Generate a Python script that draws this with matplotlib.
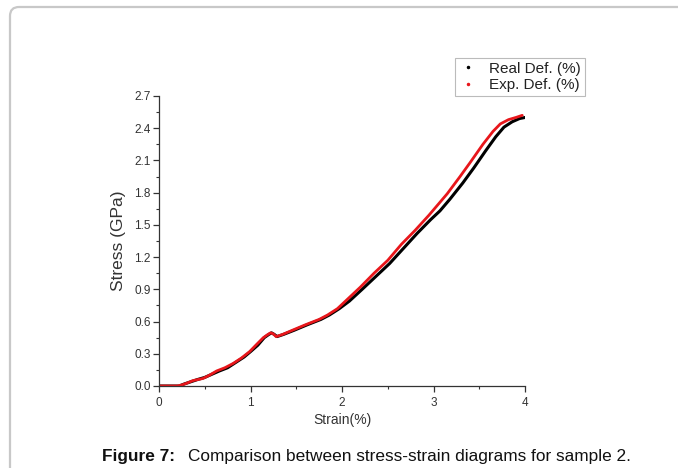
import matplotlib
matplotlib.use("Agg")
import matplotlib.pyplot as plt
from matplotlib.patches import FancyBboxPatch
from matplotlib.transforms import IdentityTransform
from matplotlib.ticker import MultipleLocator, FixedLocator
from matplotlib.lines import Line2D

plt.rcParams['font.family'] = ['Liberation Sans', 'DejaVu Sans']

# Experimental deformation (red)
exp_strain = [0, 0.2, 0.25, 0.3, 0.37, 0.48, 0.55, 0.63, 0.72, 0.81, 0.9, 0.99, 1.07, 1.14,
              1.19, 1.22, 1.25, 1.28, 1.35, 1.46, 1.6, 1.75, 1.84, 1.95, 2.05, 2.2, 2.35,
              2.5, 2.65, 2.8, 2.95, 3.04, 3.15, 3.29, 3.4, 3.54, 3.65, 3.73, 3.82, 3.9, 3.97]
exp_stress = [0, 0, 0.01, 0.025, 0.05, 0.07, 0.10, 0.14, 0.17, 0.21, 0.26, 0.32, 0.39, 0.45,
              0.48, 0.495, 0.485, 0.46, 0.48, 0.52, 0.57, 0.62, 0.66, 0.72, 0.80, 0.92, 1.05,
              1.17, 1.32, 1.45, 1.59, 1.68, 1.79, 1.95, 2.08, 2.25, 2.37, 2.44, 2.48, 2.50, 2.52]

# Real deformation (black)
real_strain = [0, 0.22, 0.28, 0.35, 0.42, 0.5, 0.58, 0.66, 0.75, 0.84, 0.93, 1.0, 1.08, 1.15,
               1.2, 1.23, 1.26, 1.29, 1.36, 1.48, 1.62, 1.77, 1.86, 1.97, 2.08, 2.22, 2.37,
               2.52, 2.67, 2.82, 2.97, 3.07, 3.18, 3.32, 3.44, 3.57, 3.68, 3.77, 3.86, 3.94, 4.0]
real_stress = [0, 0, 0.02, 0.04, 0.06, 0.08, 0.11, 0.14, 0.17, 0.22, 0.27, 0.32, 0.38, 0.45,
               0.48, 0.495, 0.48, 0.46, 0.48, 0.52, 0.57, 0.62, 0.66, 0.72, 0.79, 0.90, 1.02,
               1.14, 1.28, 1.42, 1.55, 1.63, 1.74, 1.89, 2.03, 2.19, 2.32, 2.41, 2.46, 2.49, 2.50]

x_ticks = [0, 1, 2, 3, 4]
y_ticks = [0.0, 0.3, 0.6, 0.9, 1.2, 1.5, 1.8, 2.1, 2.4, 2.7]

W, H = 678, 468
fig = plt.figure(figsize=(W / 100, H / 100), dpi=100)

# outer rounded frame (only top/left visible), in pixel coordinates
frame = FancyBboxPatch((10, -60), 1000, (H - 7) + 60,
                       boxstyle="round,pad=0,rounding_size=9",
                       transform=IdentityTransform(), fill=False,
                       edgecolor='#c8c8c8', linewidth=1.6, clip_on=False)
fig.patches.append(frame)

ax = fig.add_axes([159 / W, 1 - 386 / H, (525 - 159) / W, (386 - 96) / H])
ax.plot(real_strain, real_stress, color='black', lw=2.2, solid_capstyle='round')
ax.plot(exp_strain, exp_stress, color='#e8161b', lw=2.0, solid_capstyle='round')

ax.set_xlim(0, 4)
ax.set_ylim(0, 2.7)
ax.xaxis.set_major_locator(FixedLocator(x_ticks))
ax.yaxis.set_major_locator(FixedLocator(y_ticks))
ax.xaxis.set_minor_locator(MultipleLocator(0.5))
ax.yaxis.set_minor_locator(MultipleLocator(0.15))
ax.set_xticklabels([str(t) for t in x_ticks])
ax.set_yticklabels([f"{t:.1f}" for t in y_ticks])
for s in ['top', 'right']:
    ax.spines[s].set_visible(False)
for s in ['left', 'bottom']:
    ax.spines[s].set_color('#333333')
    ax.spines[s].set_linewidth(0.9)
ax.tick_params(which='major', direction='out', length=4, width=0.9, color='#333333',
               labelsize=8.5, labelcolor='#333333', pad=2)
ax.tick_params(axis='x', which='major', pad=4)
ax.tick_params(which='minor', direction='out', length=2.5, width=0.8, color='#333333')
ax.set_xlabel("Strain(%)", fontsize=10, color='#333333', labelpad=3)
ax.set_ylabel("Stress (GPa)", fontsize=12.5, color='#333333', labelpad=6)

handles = [Line2D([], [], ls='none', marker='.', markersize=3, color='black'),
           Line2D([], [], ls='none', marker='.', markersize=3, color='#e8161b')]
leg = fig.legend(handles, ["Real Def. (%)", "Exp. Def. (%)"],
                 loc='upper left', bbox_to_anchor=(455 / W, 1 - 58 / H),
                 fontsize=11, frameon=True, fancybox=False, handlelength=1.2,
                 handletextpad=0.8, borderpad=0.25, labelspacing=0.15,
                 borderaxespad=0)
leg.get_frame().set_edgecolor('#aaaaaa')
leg.get_frame().set_linewidth(0.8)
for t in leg.get_texts():
    t.set_color('#222222')

fig.text(139 / W, 1 - 457 / H, "Figure 7:", fontsize=12.4, fontweight='bold',
         ha='center', va='center', color='#111111')
fig.text(188 / W, 1 - 457 / H, "Comparison between stress-strain diagrams for sample 2.",
         fontsize=12.4, ha='left', va='center', color='#111111')

fig.savefig("out.png", dpi=100)
